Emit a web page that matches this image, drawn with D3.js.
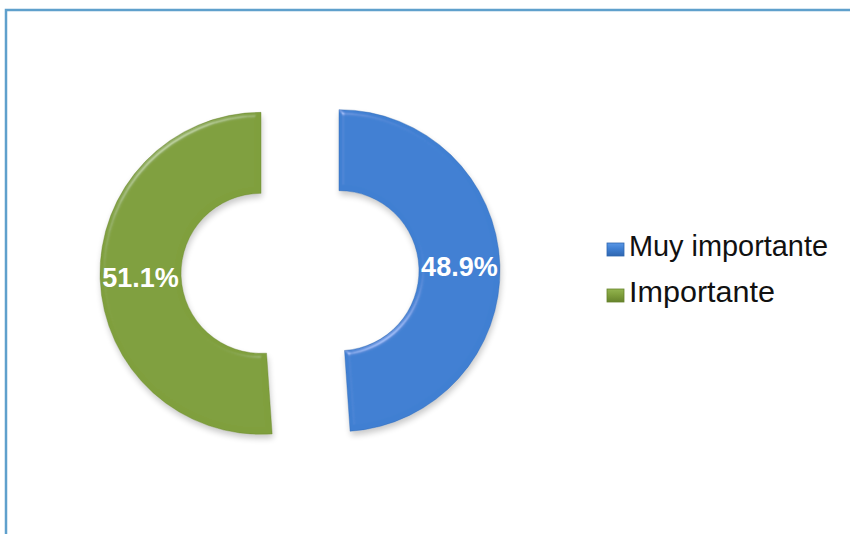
<!DOCTYPE html>
<html><head><meta charset="utf-8">
<script src="https://cdn.jsdelivr.net/npm/d3@7"></script>
<style>body{margin:0;background:#fff}svg{display:block}</style>
</head><body>
<script>
const categories = ["Muy importante", "Importante"];
const values = [48.9, 51.1];
const labels = ["48.9%", "51.1%"];
const colors = ["#3f7fd2", "#7f9f3c"];
const lightColors = ["#5a97e6", "#93b450"];
const darkColors = ["#2f66b0", "#66832c"];

const W = 850, H = 534;
const svg = d3.select("body").append("svg").attr("width", W).attr("height", H);
const defs = svg.append("defs");

// frame
svg.append("rect").attr("x", 6).attr("y", 10).attr("width", W).attr("height", H)
  .attr("fill", "#fff").attr("stroke", "#5fa0cc").attr("stroke-width", 2.5);

// bevel filter
const f = defs.append("filter").attr("id", "bevel").attr("x", "-10%").attr("y", "-10%").attr("width", "120%").attr("height", "125%");
f.append("feGaussianBlur").attr("in", "SourceAlpha").attr("stdDeviation", 3).attr("result", "blur");
f.append("feOffset").attr("in", "blur").attr("dx", 1).attr("dy", 4).attr("result", "off");
f.append("feComponentTransfer").attr("in", "off").attr("result", "shadow")
  .append("feFuncA").attr("type", "linear").attr("slope", 0.22);
f.append("feGaussianBlur").attr("in", "SourceAlpha").attr("stdDeviation", 2.5).attr("result", "b2");
const sp = f.append("feSpecularLighting").attr("in", "b2").attr("surfaceScale", 4)
  .attr("specularConstant", 0.6).attr("specularExponent", 25).attr("lighting-color", "#ffffff").attr("result", "spec");
sp.append("feDistantLight").attr("azimuth", 235).attr("elevation", 28);
f.append("feComposite").attr("in", "spec").attr("in2", "SourceAlpha").attr("operator", "in").attr("result", "specIn");
f.append("feComposite").attr("in", "SourceGraphic").attr("in2", "specIn").attr("operator", "arithmetic")
  .attr("k1", 0).attr("k2", 1).attr("k3", 0.45).attr("k4", 0).attr("result", "lit");
const m = f.append("feMerge");
m.append("feMergeNode").attr("in", "shadow");
m.append("feMergeNode").attr("in", "lit");

// gradients per legend key
colors.forEach((c, i) => {
  const g = defs.append("linearGradient").attr("id", "g" + i).attr("x1", 0).attr("y1", 0).attr("x2", 0).attr("y2", 1);
  g.append("stop").attr("offset", "0%").attr("stop-color", lightColors[i]);
  g.append("stop").attr("offset", "45%").attr("stop-color", c);
  g.append("stop").attr("offset", "100%").attr("stop-color", darkColors[i]);
});

const cx = 300, cy = 272, rOuter = 161, rInner = 80, explode = 39;
const pie = d3.pie().sort(null).value(d => d)(values);
const arc = d3.arc().innerRadius(rInner).outerRadius(rOuter);

const g = svg.append("g").attr("transform", `translate(${cx},${cy})`);
const slices = g.selectAll("g.slice").data(pie).join("g").attr("class", "slice")
  .attr("transform", d => {
    const a = (d.startAngle + d.endAngle) / 2;
    return `translate(${explode * Math.sin(a)},${-explode * Math.cos(a)})`;
  });
slices.append("path").attr("d", arc).attr("fill", (d, i) => colors[i])
  .attr("filter", "url(#bevel)");
slices.append("path").attr("d", arc).attr("fill", "none")
  .attr("stroke", (d, i) => darkColors[i]).attr("stroke-width", 0.8).attr("stroke-opacity", 0.5);
slices.append("text")
  .attr("transform", d => `translate(${arc.centroid(d)})`)
  .attr("text-anchor", "middle").attr("dy", "0.36em")
  .attr("font-family", "Liberation Sans, Arial, sans-serif").attr("font-weight", "bold")
  .attr("font-size", 27).attr("fill", "#fff")
  .text((d, i) => labels[i]);

// legend
const leg = svg.append("g").attr("transform", "translate(607,0)");
const items = leg.selectAll("g").data(categories).join("g")
  .attr("transform", (d, i) => `translate(0,${243 + i * 46})`);
items.append("rect").attr("width", 17).attr("height", 13)
  .attr("fill", (d, i) => `url(#g${i})`).attr("stroke", (d, i) => darkColors[i]).attr("stroke-width", 0.8);
items.append("text").attr("x", 22).attr("y", 13)
  .attr("font-family", "Liberation Sans, Arial, sans-serif").attr("font-size", 29).attr("fill", "#111")
  .attr("textLength", (d, i) => [199, 146][i]).attr("lengthAdjust", "spacingAndGlyphs")
  .text(d => d);
</script>
</body></html>
